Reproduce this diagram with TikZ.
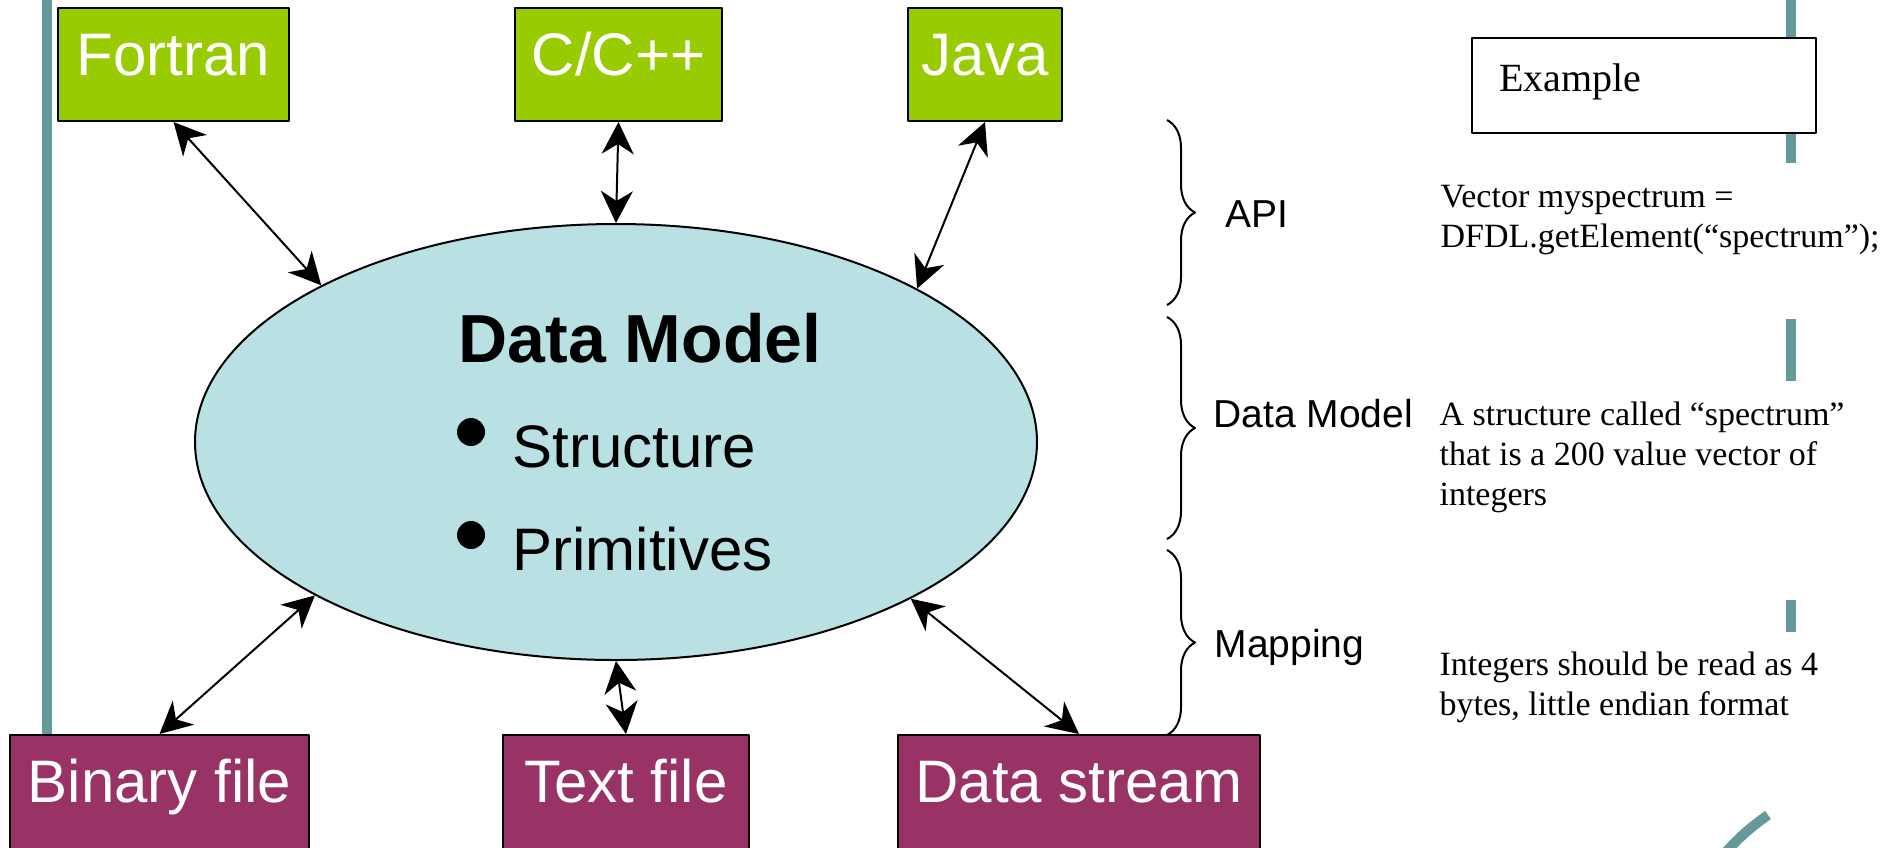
\documentclass[tikz,border=0pt]{standalone}
\usepackage{fontspec}
\setmainfont{Liberation Serif}
\setsansfont{Liberation Sans}
\usetikzlibrary{shapes.geometric,arrows.meta,decorations.pathreplacing}
\definecolor{langgreen}{RGB}{153,204,0}
\definecolor{srcpurple}{RGB}{153,51,102}
\definecolor{modelblue}{RGB}{185,224,227}
\definecolor{slideteal}{RGB}{102,153,153}
\begin{document}
\begin{tikzpicture}[x=1pt, y=-1pt, line join=round, >={Stealth[length=32pt, width=32pt, inset=10pt]},
	box/.style={draw=black, line width=2pt, text=white, inner sep=0pt, text height=67pt, font=\sffamily\fontsize{60}{72}\selectfont},
	lang/.style={box, fill=langgreen, text depth=46pt},
	src/.style={box, fill=srcpurple, text depth=88pt},
	link/.style={<->, line width=2pt},
	part/.style={anchor=base west, font=\sffamily\fontsize{39}{46}\selectfont},
	note/.style={anchor=base west, align=left, font=\fontsize{34}{40}\selectfont},
	curly/.style={decorate, decoration={brace, amplitude=28pt}, line width=2pt}]
		\useasboundingbox (0,0) rectangle (1881,847);
		\clip (0,0) rectangle (1881,847);
		% slide background
		\fill[slideteal] (42,0) rectangle (52,735);
		\foreach \a/\b in {0/163, 319/381, 600/632}
		\fill[slideteal] (1786,\a) rectangle (1796,\b);
		\draw[slideteal, line width=10pt] (1726,852) to[bend left=6] (1768,815);
		% model
		\node[ellipse, draw, line width=2pt, fill=modelblue, minimum width=842pt, minimum height=436pt, inner sep=0pt] (dm) at (616,442) {};
		\node[anchor=base, font=\sffamily\bfseries\fontsize{68}{80}\selectfont] (title) at (640,362) {Data Model};
		\fill (471,432) circle (14) (471,535) circle (14);
		\node[anchor=base west, font=\sffamily\fontsize{60}{72}\selectfont] (structure) at (509,467) {Structure};
		\node[anchor=base west, font=\sffamily\fontsize{60}{72}\selectfont] (primitives) at (509,570) {Primitives};
		% languages and sources
		\node[lang, minimum width=231pt] (fortran) at (173.5,64.5) {Fortran};
		\node[lang, minimum width=207pt] (cpp) at (618.5,64.5) {C/C++};
		\node[lang, minimum width=154pt] (java) at (985,64.5) {Java};
		\node[src, minimum width=299pt] (binary) at (159.5,812.5) {Binary file};
		\node[src, minimum width=246pt] (text) at (626,812.5) {Text file};
		\node[src, minimum width=362pt] (stream) at (1079,812.5) {Data stream};
		\foreach \n/\a in {fortran/152.75, cpp/90, java/27.3}
		\draw[link] (\n.south) -- (dm.\a);
		\foreach \n/\a in {binary/207.7, text/270, stream/332.5}
		\draw[link] (\n.north) -- (dm.\a);
		% layers
		\draw[curly] (1167,120) -- (1167,305);
		\draw[curly] (1167,317) -- (1167,539);
		\draw[curly] (1167,550) -- (1167,735);
		\node[part] (api) at (1222,227) {API};
		\node[part] (model) at (1210,427) {Data Model};
		\node[part] (mapping) at (1211,657) {Mapping};
		% example column (base = last line)
		\node[draw, line width=2pt, fill=white, inner xsep=27pt, inner ysep=0pt, text width=290pt, align=left, text height=53pt, text depth=42pt, font=\fontsize{40}{48}\selectfont] (example) at (1644,85.5) {Example};
		\node[note] (apinote) at (1437,247) {Vector myspectrum =\\DFDL.getElement(“spectrum”);};
		\node[note] (modelnote) at (1436,505) {A structure called “spectrum”\\that is a 200 value vector of\\integers};
		\node[note] (mapnote) at (1436,715) {Integers should be read as 4\\bytes, little endian format};
\end{tikzpicture}
\end{document}
